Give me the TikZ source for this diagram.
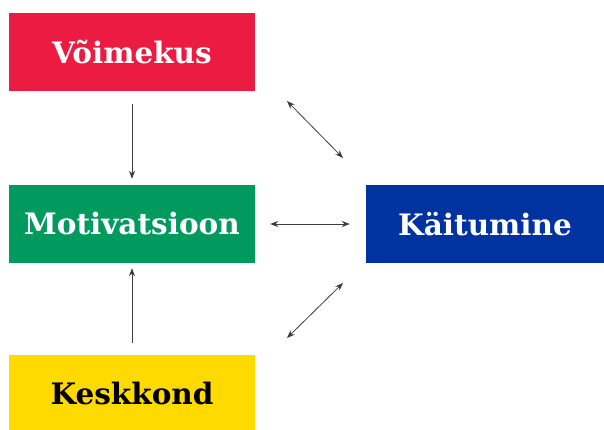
\documentclass[tikz,border=0pt]{standalone}
\usepackage{fontspec}
\setmainfont{DejaVu Serif}
\usetikzlibrary{arrows.meta}
\definecolor{cred}{RGB}{235,27,66}
\definecolor{cgreen}{RGB}{0,154,94}
\definecolor{cblue}{RGB}{0,51,160}
\definecolor{cyellow}{RGB}{255,218,0}
\definecolor{carrow}{RGB}{60,60,60}
\begin{document}
\begin{tikzpicture}[x=1pt,y=-1pt,
  box/.style={minimum width=246pt,minimum height=78pt,inner sep=0pt,
    font=\fontsize{29.5}{34}\selectfont\bfseries,text=white},
  conn/.style={draw=carrow,line width=0.8pt,-{Stealth[length=8pt,width=6pt]}},
  dconn/.style={draw=carrow,line width=0.8pt,{Stealth[length=8pt,width=6pt]}-{Stealth[length=8pt,width=6pt]}}]
\useasboundingbox (0,0) rectangle (604,430);
\node[box,fill=cred] (v) at (132,52.5) {Võimekus};
\node[box,fill=cgreen] (m) at (132,224) {Motivatsioon};
\node[box,fill=cblue,minimum width=238pt] (k) at (485,224) {Käitumine};
\node[box,fill=cyellow,text=black,minimum height=76pt] (e) at (132,393) {Keskkond};
\coordinate (a1) at (287,101);
\coordinate (a2) at (343,158);
\coordinate (b1) at (287,338);
\coordinate (b2) at (343,283);
\draw[conn,shorten <=12pt,shorten >=6pt] (v.south) -- (m.north);
\draw[conn,shorten <=12pt,shorten >=5pt] (e.north) -- (m.south);
\draw[dconn,shorten <=15pt,shorten >=16pt] (m.east) -- (k.west);
\draw[dconn] (a1) -- (a2);
\draw[dconn] (b1) -- (b2);
\end{tikzpicture}
\end{document}
